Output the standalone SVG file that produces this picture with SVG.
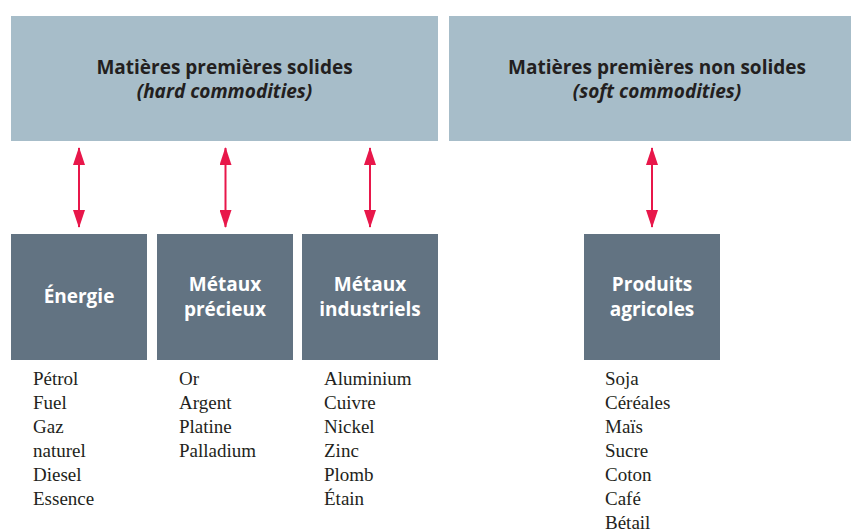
<svg xmlns="http://www.w3.org/2000/svg" width="851" height="532" viewBox="0 0 851 532">
<style>
.top{fill:#a7bdc9}
.node{fill:#627382}
.h{font-family:"Open Sans","Noto Sans",sans-serif;font-weight:700;font-size:19px;fill:#231f20;text-anchor:middle}
.hi{font-style:italic}
.n{font-family:"Open Sans","Noto Sans",sans-serif;font-weight:700;font-size:19px;fill:#ffffff;text-anchor:middle}
.l{font-family:"Liberation Serif","Times New Roman",serif;font-size:19px;fill:#231f20}
.c{stroke:#e8174a;stroke-width:2;fill:none}
</style>
<defs>
<marker id="ah" markerUnits="userSpaceOnUse" markerWidth="18" markerHeight="12" viewBox="0 0 18 12" refX="17" refY="6" orient="auto-start-reverse">
<path d="M0,0 L18,6 L0,12 Z" fill="#e8174a"/>
</marker>
</defs>
<g id="hard">
<rect class="top" x="11" y="16" width="427" height="125"/>
<text class="h" x="224.5" y="74">Matières premières solides</text>
<text class="h hi" x="224.5" y="98">(hard commodities)</text>
</g>
<g id="soft">
<rect class="top" x="449" y="16" width="402" height="125"/>
<text class="h" x="657" y="74">Matières premières non solides</text>
<text class="h hi" x="657" y="98">(soft commodities)</text>
</g>
<g id="connectors">
<line class="c" x1="79" y1="148" x2="79" y2="227" marker-start="url(#ah)" marker-end="url(#ah)"/>
<line class="c" x1="225.5" y1="148" x2="225.5" y2="227" marker-start="url(#ah)" marker-end="url(#ah)"/>
<line class="c" x1="370" y1="148" x2="370" y2="227" marker-start="url(#ah)" marker-end="url(#ah)"/>
<line class="c" x1="652" y1="148" x2="652" y2="227" marker-start="url(#ah)" marker-end="url(#ah)"/>
</g>
<g id="energie">
<rect class="node" x="11" y="234" width="136" height="126"/>
<text class="n" x="79" y="303">Énergie</text>
<text class="l" x="33" y="385">Pétrol</text>
<text class="l" x="33" y="409">Fuel</text>
<text class="l" x="33" y="433">Gaz</text>
<text class="l" x="33" y="457">naturel</text>
<text class="l" x="33" y="481">Diesel</text>
<text class="l" x="33" y="505">Essence</text>
</g>
<g id="precieux">
<rect class="node" x="157" y="234" width="136" height="126"/>
<text class="n" x="225" y="291">Métaux</text>
<text class="n" x="225" y="316">précieux</text>
<text class="l" x="179" y="385">Or</text>
<text class="l" x="179" y="409">Argent</text>
<text class="l" x="179" y="433">Platine</text>
<text class="l" x="179" y="457">Palladium</text>
</g>
<g id="industriels">
<rect class="node" x="302" y="234" width="136" height="126"/>
<text class="n" x="370" y="291">Métaux</text>
<text class="n" x="370" y="316">industriels</text>
<text class="l" x="324" y="385">Aluminium</text>
<text class="l" x="324" y="409">Cuivre</text>
<text class="l" x="324" y="433">Nickel</text>
<text class="l" x="324" y="457">Zinc</text>
<text class="l" x="324" y="481">Plomb</text>
<text class="l" x="324" y="505">Étain</text>
</g>
<g id="agricoles">
<rect class="node" x="584" y="234" width="136" height="126"/>
<text class="n" x="652" y="291">Produits</text>
<text class="n" x="652" y="316">agricoles</text>
<text class="l" x="605" y="385">Soja</text>
<text class="l" x="605" y="409">Céréales</text>
<text class="l" x="605" y="433">Maïs</text>
<text class="l" x="605" y="457">Sucre</text>
<text class="l" x="605" y="481">Coton</text>
<text class="l" x="605" y="505">Café</text>
<text class="l" x="605" y="529">Bétail</text>
</g>
</svg>
